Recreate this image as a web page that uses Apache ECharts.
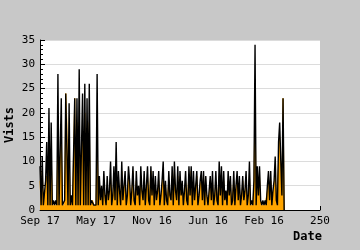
<!DOCTYPE html>
<html><head><meta charset="utf-8">
<script src="https://cdn.jsdelivr.net/npm/echarts@6/dist/echarts.min.js"></script>
<style>html,body{margin:0;padding:0;background:#c8c8c8}#c{width:360px;height:250px}</style>
</head><body><div id="c"></div>
<script>
var xTickLabels = {0:'Sep 17',50:'May 17',100:'Nov 16',150:'Jun 16',200:'Feb 16',250:'250'};
var visits = [9,1,11,1,1,6,14,1,21,1,18,1,2,1,2,1,28,1,1,23,1,1,2,24,24,1,22,1,3,1,1,23,1,23,1,29,1,1,24,1,26,1,23,1,26,1,2,2,1,1,1,28,1,
7,2,5,1,8,3,1,7,2,4,10,1,3,9,2,14,1,8,4,1,10,2,5,8,1,3,9,6,1,4,9,2,1,8,3,5,1,9,4,2,8,1,5,9,2,1,9,3,8,1,7,2,4,8,1,3,6,10,1,6,2,1,8,3,2,9,1,10,4,2,9,1,8,3,6,1,4,8,2,1,9,3,9,1,8,2,5,8,1,3,6,8,2,8,1,7,3,1,4,7,2,8,1,3,8,2,1,10,3,9,1,8,2,4,1,8,3,7,1,2,8,1,5,8,2,7,1,3,7,2,4,8,1,3,10,1,2,1,6,34,1,9,3,9,2,1,2,1,2,1,5,8,2,8,1,4,6,11,2,1,14,18,10,3,23,0];
var uniques = [6,1,8,1,1,4,7,1,10,1,12,1,1,1,1,1,15,1,1,16,1,1,1,24,18,1,12,1,2,1,1,23,1,18,1,18,1,1,16,1,20,1,15,1,18,1,1,2,1,1,1,15,1,
6,1,4,1,6,2,1,5,1,3,7,1,2,7,1,9,1,6,3,1,8,1,4,6,1,2,7,5,1,3,8,1,1,6,2,4,1,7,3,1,6,1,4,7,1,1,8,2,6,1,5,1,3,6,1,2,5,7,1,5,1,1,6,2,1,7,1,8,3,1,7,1,6,2,5,1,3,6,1,1,7,2,8,1,6,1,4,7,1,2,5,6,1,7,1,5,2,1,3,6,1,6,1,2,6,1,1,7,2,7,1,6,1,3,1,6,2,6,1,1,6,1,4,6,1,5,1,2,6,1,3,6,1,2,7,1,1,1,5,22,1,6,2,7,1,1,1,1,1,1,4,6,1,6,1,3,5,8,1,1,10,15,8,2,23,0];
var vData = visits.map(function(v,i){return [i,v];});
var uData = uniques.map(function(v,i){return [i,v];});
var font = 'DejaVu Sans Mono';
var chart = echarts.init(document.getElementById('c'), null, {renderer:'canvas'});
chart.setOption({
  animation:false,
  backgroundColor:'#c8c8c8',
  grid:{left:40,top:40,width:280,height:170,show:true,backgroundColor:'#ffffff',borderWidth:0,containLabel:false,outerBoundsMode:'none'},
  xAxis:{type:'value',min:0,max:250,interval:50,
    name:'Date',nameLocation:'end',nameGap:0,nameMoveOverlap:false,
    nameTextStyle:{fontFamily:font,fontWeight:'bold',fontSize:12,color:'#000',align:'right',verticalAlign:'top',padding:[21,-2,0,0]},
    axisLine:{show:true,onZero:false,lineStyle:{color:'#000',width:1}},
    axisTick:{show:true,inside:true,length:4,lineStyle:{color:'#000'}},
    splitLine:{show:false},
    axisLabel:{fontFamily:font,fontSize:11,color:'#000',margin:6,showMaxLabel:true,showMinLabel:true,
      formatter:function(v){return xTickLabels[v]!==undefined?xTickLabels[v]:String(v);}}
  },
  yAxis:{type:'value',min:0,max:35,interval:5,
    name:'Vists',nameLocation:'middle',nameGap:24,nameRotate:90,nameMoveOverlap:false,
    nameTextStyle:{fontFamily:font,fontWeight:'bold',fontSize:12,color:'#000'},
    axisLine:{show:true,lineStyle:{color:'#000',width:1}},
    axisTick:{show:true,inside:true,length:5,lineStyle:{color:'#000'}},
    minorTick:{show:true,splitNumber:5,length:3,lineStyle:{color:'#000'}},
    splitLine:{show:true,lineStyle:{color:'#dcdcdc',width:1}},
    axisLabel:{fontFamily:font,fontSize:11,color:'#000',margin:5}
  },
  series:[
    {type:'line',data:uData,showSymbol:false,z:2,
      lineStyle:{color:'#ffa500',width:1},areaStyle:{color:'#ffa500',opacity:1}},
    {type:'line',data:vData,showSymbol:false,z:3,
      lineStyle:{color:'#000',width:1.4,opacity:1}}
  ]
});
</script></body></html>
